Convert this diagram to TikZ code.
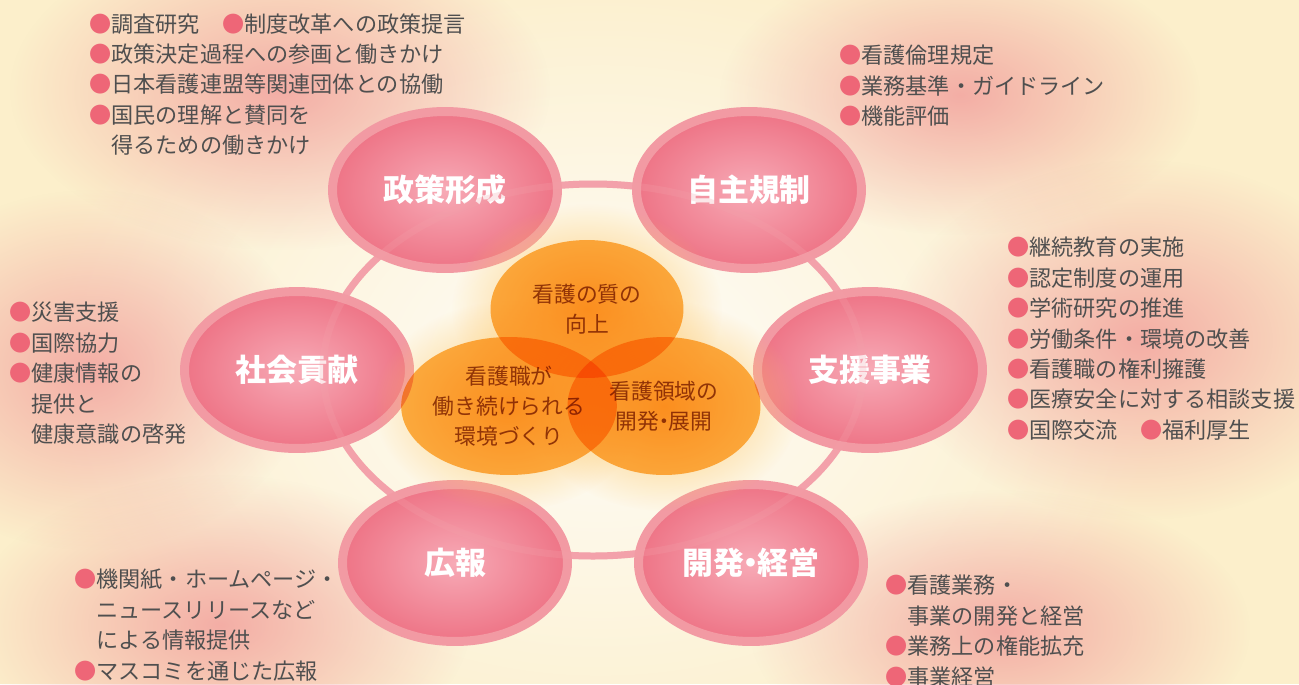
\documentclass[tikz,border=0pt]{standalone}
\usepackage{fontspec}
\usepackage{tikz}
\usetikzlibrary{shapes.geometric,fadings}

\newfontfamily\jp{Noto Sans CJK JP}

\definecolor{bgcream}{HTML}{FCEFCB}
\definecolor{blobpink}{HTML}{F2A29E}
\definecolor{bandpink}{HTML}{F29AA3}
\definecolor{pinklight}{HTML}{F7AAB6}
\definecolor{pinkdeep}{HTML}{EE7486}
\definecolor{ringpink}{HTML}{F3A1AA}
\definecolor{orangefill}{HTML}{FDB64C}
\definecolor{glowyellow}{HTML}{FDC868}
\definecolor{browntext}{HTML}{94572A}
\definecolor{listgray}{HTML}{4F4F4F}
\definecolor{bulletpink}{HTML}{EE6677}

\tikzfading[name=soft blob,inner color=transparent!0,outer color=transparent!100]

\newcommand{\bul}{{\color{bulletpink}●}}
\newcommand{\ind}{\hphantom{●}}
\newcommand{\narrowdot}{\makebox[0.45em]{・}}

\begin{document}
\begin{tikzpicture}[x=0.02cm,y=-0.02cm,
        main node/.style={ellipse,draw=bandpink,line width=0.18cm,inner sep=0pt,
            minimum width=4.5cm,minimum height=3.14cm,
            inner color=pinklight,outer color=pinkdeep,
            text=white,font=\jp\bfseries\fontsize{17.6}{20}\selectfont},
        venn node/.style={ellipse,fill=orangefill,inner sep=0pt,
            minimum width=3.86cm,minimum height=2.76cm,align=center,
            text=browntext,font=\jp\fontsize{12.4}{17}\selectfont},
        list node/.style={anchor=north west,inner sep=0pt,align=left,
            text=listgray,font=\jp\fontsize{12.6}{17.3}\selectfont},
        blob/.style={blobpink,path fading=soft blob,opacity=0.85}]

    \useasboundingbox (0,0) rectangle (1299,684);
    \clip (0,0) rectangle (1299,684);

    % background
    \fill[bgcream] (0,0) rectangle (1299,684);
    \fill[white,path fading=soft blob,opacity=0.9] (600,370) ellipse (560 and 420);
    \fill[blob] (280,90) ellipse (270 and 160);
    \fill[blob] (960,95) ellipse (240 and 140);
    \fill[blob] (1140,340) ellipse (250 and 180);
    \fill[blob] (90,370) ellipse (220 and 180);
    \fill[blob] (220,625) ellipse (250 and 150);
    \fill[blob] (1000,630) ellipse (250 and 140);

    % ring behind the six fields
    \coordinate (centre) at (593,370);
    \draw[ringpink,line width=0.14cm] (centre) ellipse (270 and 186);

    \node[main node] (seisaku) at (445,190) {政策形成};
    \node[main node] (jishu) at (749,190) {自主規制};
    \node[main node] (shakai) at (297,370) {社会貢献};
    \node[main node] (shien) at (870,370) {支援事業};
    \node[main node] (kouhou) at (455,563) {広報};
    \node[main node] (kaihatsu) at (751,563) {開発\narrowdot 経営};

    \draw[ringpink,line width=0.14cm,opacity=0.25] (centre) ellipse (270 and 186);

    % three aims in the middle
    \fill[glowyellow,path fading=soft blob] (587,309) ellipse (135 and 105);
    \fill[glowyellow,path fading=soft blob] (509,406) ellipse (135 and 105);
    \fill[glowyellow,path fading=soft blob] (664,406) ellipse (135 and 105);
    \begin{scope}[blend mode=multiply]
        \node[venn node] (quality) at (587,309) {看護の質の\\向上};
        \node[venn node] (workenv) at (509,406) {看護職が\\働き続けられる\\環境づくり};
        \node[venn node] (domain) at (664,406) {看護領域の\\開発\narrowdot 展開};
    \end{scope}

    % activities
    \node[list node] (seisakulist) at (89,13) {\bul 調査研究　\bul 制度改革への政策提言\\
        \bul 政策決定過程への参画と働きかけ\\
        \bul 日本看護連盟等関連団体との協働\\
        \bul 国民の理解と賛同を\\
        \ind 得るための働きかけ};
    \node[list node] (jishulist) at (839,45) {\bul 看護倫理規定\\
        \bul 業務基準・ガイドライン\\
        \bul 機能評価};
    \node[list node] (shienlist) at (1007,237) {\bul 継続教育の実施\\
        \bul 認定制度の運用\\
        \bul 学術研究の推進\\
        \bul 労働条件・環境の改善\\
        \bul 看護職の権利擁護\\
        \bul 医療安全に対する相談支援\\
        \bul 国際交流　\bul 福利厚生};
    \node[list node] (shakailist) at (9,302) {\bul 災害支援\\
        \bul 国際協力\\
        \bul 健康情報の\\
        \ind 提供と\\
        \ind 健康意識の啓発};
    \node[list node] (kouhoulist) at (74,569) {\bul 機関紙・ホームページ・\\
        \ind ニュースリリースなど\\
        \ind による情報提供\\
        \bul マスコミを通じた広報};
    \node[list node] (kaihatsulist) at (885,575) {\bul 看護業務・\\
        \ind 事業の開発と経営\\
        \bul 業務上の権能拡充\\
        \bul 事業経営};

\end{tikzpicture}
\end{document}
